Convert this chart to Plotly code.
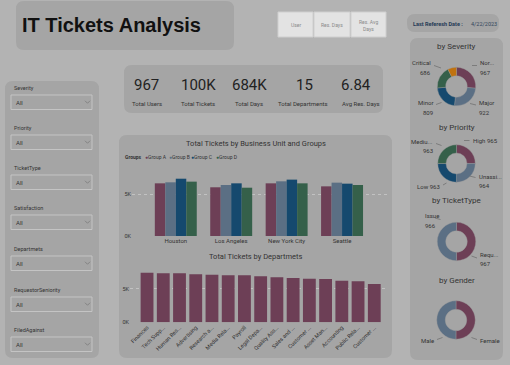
import plotly.graph_objects as go

W, H = 510, 365

# ---------------- data ----------------
cities = ["Houston", "Los Angeles", "New York City", "Seattle"]
group_names = ["Group A", "Group B", "Group C", "Group D"]
group_a = [6270, 5800, 6270, 5910]
group_b = [6390, 6070, 6510, 6350]
group_c = [6820, 6270, 6710, 6230]
group_d = [6470, 5750, 6270, 6070]

departments = ["Finances", "Tech Support", "Human Resources", "Advertising",
               "Research and Development", "Media Relations", "Payroll",
               "Legal Department", "Quality Assurance", "Sales and Marketing",
               "Customer Service", "Asset Management", "Accounting",
               "Public Relations", "Customer Support"]
dept_ticklabels = ["Finances", "Tech Supp...", "Human Res...", "Advertising",
                   "Research a...", "Media Rela...", "Payroll", "Legal Depa...",
                   "Quality Ass...", "Sales and ...", "Customer ...", "Asset Man...",
                   "Accounting", "Public Rela...", "Customer ..."]
dept_tickets = [7380, 7290, 7290, 7140, 7080, 6990, 6990, 6850, 6700, 6590,
                6490, 6440, 6190, 6100, 5700]

severity_labels = ["Normal", "Major", "Minor", "Critical", "Unassigned"]
severity_values = [967, 922, 809, 686, 270]
priority_labels = ["High", "Unassigned", "Low", "Medium"]
priority_values = [965, 964, 963, 963]
tickettype_labels = ["Request", "Issue"]
tickettype_values = [967, 966]
gender_labels = ["Female", "Male"]
gender_values = [484, 483]

kpi_values = ["967", "100K", "684K", "15", "6.84"]
kpi_labels = ["Total Users", "Total Tickets", "Total Days", "Total Departments", "Avg Res. Days"]

filter_labels = ["Severity", "Priority", "TicketType", "Satisfaction",
                 "Departmets", "RequestorSeniority", "FiledAgainst"]

# ---------------- style ----------------
BG = "#b3b3b3"
PANEL = "#a5a5a5"
MAROON = "#6d3f56"
SLATE = "#5b6f84"
NAVY = "#15496e"
GREEN = "#35604a"
ORANGE = "#c0720f"
TXT = "#333333"
FONT = "Roboto"


def X(px):
    return px / W


def Y(py):
    return 1 - py / H


def rrect(x0, y0, x1, y1, r, fill, line=None, lw=0):
    p = (f"M {X(x0+r)},{Y(y0)} L {X(x1-r)},{Y(y0)} Q {X(x1)},{Y(y0)} {X(x1)},{Y(y0+r)} "
         f"L {X(x1)},{Y(y1-r)} Q {X(x1)},{Y(y1)} {X(x1-r)},{Y(y1)} "
         f"L {X(x0+r)},{Y(y1)} Q {X(x0)},{Y(y1)} {X(x0)},{Y(y1-r)} "
         f"L {X(x0)},{Y(y0+r)} Q {X(x0)},{Y(y0)} {X(x0+r)},{Y(y0)} Z")
    return dict(type="path", path=p, xref="paper", yref="paper", fillcolor=fill,
                line=dict(color=line or fill, width=lw), layer="below")


def seg(x0, y0, x1, y1, color="#6a6a6a", w=0.7):
    return dict(type="line", xref="paper", yref="paper", x0=X(x0), y0=Y(y0),
                x1=X(x1), y1=Y(y1), line=dict(color=color, width=w))


annotations = []


def txt(x, y, s, size=6, color=TXT, xanchor="left", yanchor="middle", family=FONT):
    annotations.append(dict(x=X(x), y=Y(y), xref="paper", yref="paper", text=s,
                            showarrow=False, xanchor=xanchor, yanchor=yanchor,
                            font=dict(size=size, color=color, family=family)))


shapes = []

# panels
shapes.append(rrect(16, 1, 234, 50, 8, PANEL))
shapes.append(rrect(5, 81, 99, 358, 8, PANEL))
shapes.append(rrect(124, 65, 383, 113, 8, PANEL))
shapes.append(rrect(119, 135, 392, 358, 8, PANEL))
shapes.append(rrect(410, 38, 503, 360, 8, PANEL))
shapes.append(rrect(407, 14, 499, 32, 8, PANEL))

# buttons
for (bx0, bx1) in [(278, 313), (314, 350), (351, 386)]:
    shapes.append(dict(type="rect", xref="paper", yref="paper", x0=X(bx0), x1=X(bx1),
                       y0=Y(12), y1=Y(37), fillcolor="#e3e3e3",
                       line=dict(color="#cfcfcf", width=1), layer="below"))
txt(295.5, 25, "User", 5, "#8a8a8a", "center")
txt(332, 25, "Res. Days", 5, "#8a8a8a", "center")
txt(368.5, 21.5, "Res. Avg", 5, "#8a8a8a", "center")
txt(368.5, 29, "Days", 5, "#8a8a8a", "center")

# title
txt(20, 25, "<b>IT Tickets Analysis</b>", 20, "#111111", "left", family="Liberation Sans")

# last refresh
txt(411, 23.5, "<b>Last Referesh Date :</b>", 5.5, "#243a55", "left")
txt(469, 23.5, "4/22/2023", 5.5, "#33465c", "left")

# filters
label_y = [88, 128, 168, 208, 249, 290, 330]
for lab, ly in zip(filter_labels, label_y):
    txt(12, ly, lab, 5.5, "#333333", "left")
    by0, by1 = ly + 7, ly + 21.5
    shapes.append(dict(type="rect", xref="paper", yref="paper", x0=X(11), x1=X(92),
                       y0=Y(by0), y1=Y(by1), fillcolor=PANEL,
                       line=dict(color="#c4c4c4", width=1), layer="below"))
    txt(14, (by0 + by1) / 2, "All", 6, "#333333", "left")
    cy = (by0 + by1) / 2
    shapes.append(dict(type="path", xref="paper", yref="paper",
                       path=f"M {X(85)},{Y(cy-1.5)} L {X(87.5)},{Y(cy+1)} L {X(90)},{Y(cy-1.5)}",
                       line=dict(color="#7a7a7a", width=0.8)))

# KPIs
kpi_x = [146.5, 198.5, 249, 304, 356]
kpi_lx = [146.5, 198, 249, 303, 360.5]
for v, l, x, lx in zip(kpi_values, kpi_labels, kpi_x, kpi_lx):
    txt(x, 85, v, 15, "#222222", "center")
    txt(lx, 103.5, l, 6, "#333333", "center")

# chart titles
txt(255.5, 144, "Total Tickets by Business Unit and Groups", 7.5, TXT, "center")
txt(255.5, 256, "Total Tickets by Departmets", 7.5, TXT, "center")
txt(122.5, 157.5, "<b>Groups</b>", 5, TXT, "left")
for gname, gcol, gx in zip(group_names, [MAROON, SLATE, NAVY, GREEN], [142.5, 166.5, 189, 213.5]):
    txt(gx, 157.5, f"<span style='color:{gcol}'>●</span>{gname}", 5, TXT, "left")

# donut titles
txt(456.5, 46.5, "by Severity", 8, TXT, "center")
txt(456.5, 127, "by Priority", 8, TXT, "center")
txt(456.5, 200.5, "by TicketType", 8, TXT, "center")
txt(456.5, 280.5, "by Gender", 8, TXT, "center")

# donut labels
DL = 6
txt(433, 62.5, "Critical", DL, TXT, "right"); txt(433, 72.5, "686", DL, TXT, "right")
txt(478, 62.5, "Nor...", DL, TXT, "left"); txt(478, 72.5, "967", DL, TXT, "left")
txt(435, 102.5, "Minor", DL, TXT, "right"); txt(435, 112.5, "809", DL, TXT, "right")
txt(477, 102.5, "Major", DL, TXT, "left"); txt(477, 112.5, "922", DL, TXT, "left")
shapes += [seg(434, 65.5, 441, 68), seg(472, 65.5, 477, 65.5),
           seg(436, 104.5, 441.5, 102.5), seg(470, 103.5, 476, 105)]

txt(435, 141.5, "Mediu...", DL, TXT, "right"); txt(435, 150.5, "963", DL, TXT, "right")
txt(470.5, 140.5, "High 965", DL, TXT, "left")
txt(477, 176.5, "Unassi...", DL, TXT, "left"); txt(477, 185.5, "964", DL, TXT, "left")
txt(442, 186, "Low 963", DL, TXT, "right")
shapes += [seg(436, 143.5, 441.5, 145.5), seg(464, 140.5, 469.5, 140.5),
           seg(469.5, 176, 475.5, 177.5), seg(443, 185, 446.5, 183)]

txt(423, 215, "Issue", DL, TXT, "left"); txt(423, 225, "966", DL, TXT, "left")
txt(478, 254, "Requ...", DL, TXT, "left"); txt(478, 263.5, "967", DL, TXT, "left")
shapes += [seg(435, 218, 440.5, 219.5), seg(471.5, 256, 477, 258)]

txt(436, 340, "Male", DL, TXT, "right")
txt(478, 340, "Female", DL, TXT, "left")
shapes += [seg(437, 339.5, 442.5, 337.5), seg(471.5, 337.5, 477, 339.5)]

# ---------------- traces ----------------
fig = go.Figure()
colors = [MAROON, SLATE, NAVY, GREEN]
for name, vals, c in zip(group_names, [group_a, group_b, group_c, group_d], colors):
    fig.add_trace(go.Bar(x=cities, y=vals, name=name, marker=dict(color=c, line=dict(width=0)),
                         xaxis="x", yaxis="y", showlegend=False, hoverinfo="skip"))

fig.add_trace(go.Bar(x=departments, y=dept_tickets, marker=dict(color=MAROON, line=dict(width=0)),
                     width=0.79, xaxis="x2", yaxis="y2", showlegend=False, hoverinfo="skip"))


def pie(labels, values, cols, cx, cy, d=38.5):
    r = d / 2
    return go.Pie(labels=labels, values=values, sort=False, direction="clockwise",
                  rotation=0, hole=0.56, textinfo="none", hoverinfo="skip",
                  marker=dict(colors=cols, line=dict(color="#9a9a9a", width=0.4)),
                  domain=dict(x=[X(cx - r), X(cx + r)], y=[Y(cy + r), Y(cy - r)]),
                  showlegend=False)


fig.add_trace(pie(severity_labels, severity_values, [MAROON, SLATE, NAVY, GREEN, ORANGE], 456.5, 86.5))
fig.add_trace(pie(priority_labels, priority_values, [MAROON, SLATE, NAVY, GREEN], 456.5, 163.5, 37.5))
fig.add_trace(pie(tickettype_labels, tickettype_values, [MAROON, SLATE], 456.5, 241.5))
fig.add_trace(pie(gender_labels, gender_values, [MAROON, SLATE], 456, 320))

axfont = dict(size=5.5, color=TXT, family=FONT)
fig.update_layout(
    width=W, height=H, autosize=False, template="none",
    margin=dict(l=0, r=0, t=0, b=0, pad=0),
    paper_bgcolor=BG, plot_bgcolor="rgba(0,0,0,0)",
    barmode="group", bargap=0.243, bargroupgap=0.0,
    font=dict(family=FONT, color=TXT),
    shapes=shapes, annotations=annotations,
    xaxis=dict(domain=[X(132), X(390)], range=[-0.79, 3.865], showgrid=False, zeroline=False,
               showline=False, ticks="", tickfont=dict(size=6, color=TXT, family=FONT),
               anchor="y", fixedrange=True),
    yaxis=dict(domain=[Y(236), Y(166)], range=[0, 8333], tickvals=[0, 5000], ticktext=["0K", "5K"],
               showgrid=True, gridcolor="#c9c9c9", griddash="dot", gridwidth=0.8, zeroline=False,
               showline=False, ticks="", tickfont=axfont, anchor="x", fixedrange=True),
    xaxis2=dict(domain=[X(130), X(385)], range=[-1.05, 14.66], showgrid=False, zeroline=False,
                showline=False, ticks="", tickangle=-45, tickvals=departments, ticktext=dept_ticklabels,
                tickfont=dict(size=5.5, color=TXT, family=FONT), anchor="y2", fixedrange=True),
    yaxis2=dict(domain=[Y(322.3), Y(265)], range=[0, 8527], tickvals=[0, 5000], ticktext=["0K", "5K"],
                showgrid=True, gridcolor="#c9c9c9", griddash="dot", gridwidth=0.8, zeroline=False,
                showline=False, ticks="", tickfont=axfont, anchor="x2", fixedrange=True),
)

fig.write_html("out.html", config=dict(displayModeBar=False, staticPlot=True),
               post_script="document.body.style.margin='0';document.body.style.overflow='hidden';")
